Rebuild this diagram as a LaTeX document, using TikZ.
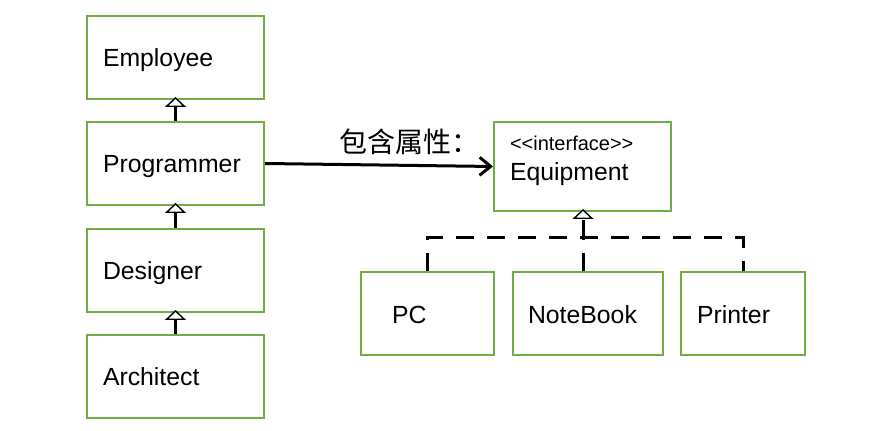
\documentclass[tikz,border=0pt]{standalone}
\usepackage{fontspec}
\setmainfont{Liberation Sans}
\newfontfamily\cjk{Noto Sans CJK SC}
\usetikzlibrary{arrows.meta}
\definecolor{umlgreen}{RGB}{112,173,71}
\begin{document}
\begin{tikzpicture}
	[ x=0.5pt, y=-0.5pt,
	  cls/.style={draw=umlgreen,line width=1pt,fill=white,align=left,
	    font=\fontsize{12.4}{15}\selectfont,inner xsep=8pt,
	    text height=10.5pt,text depth=1pt,
	    minimum height=41.5pt,text width=72.5pt},
	  impl/.style={line width=1.5pt,dash pattern=on 9pt off 6.5pt},
	  inherit/.style={line width=1.5pt,
	    -{Triangle[open,length=5pt,width=10.5pt,line width=0.7pt,fill=white]},
	    shorten >=-1.5pt},
	  assoc/.style={line width=1.5pt,-{Straight Barb[length=5.5pt,width=9pt]}},
	  key/.style={font=\cjk\fontsize{14}{16}\selectfont} ]

	\useasboundingbox (0,0) rectangle (877,431);

	% inheritance chain
	\node[cls] (employee)   at (175.5,57.5)  {Employee};
	\node[cls] (programmer) at (175.5,163.5) {Programmer};
	\node[cls] (designer)   at (175.5,270.5) {Designer};
	\node[cls] (architect)  at (175.5,376.5) {Architect};

	\draw[inherit] (programmer) -- (employee);
	\draw[inherit] (designer) -- (programmer);
	\draw[inherit] (architect) -- (designer);

	% interface and its implementations
	\node[cls,minimum height=44.5pt,text height=7.5pt,text depth=23pt] (equipment) at (582.5,166.5)
	  {{\fontsize{10}{15}\selectfont<{}<interface>{}>}\\Equipment};
	\node[cls,text width=35.5pt,inner xsep=15.5pt] (pc) at (427.5,314) {PC};
	\node[cls,text width=60pt,inner xsep=7.5pt] (notebook) at (588,314) {NoteBook};
	\node[cls,text width=46pt] (printer) at (743,314) {Printer};

	\coordinate (bus) at (583,238);
	\draw[impl] (pc.north) |- (bus) -| (printer.north);
	\draw[impl] (notebook.north -| bus) -- (bus);
	\draw[inherit,dash pattern=on 9pt off 6.5pt] (bus) -- (equipment.south -| bus);

	\draw[assoc] (programmer.east) -- node[above=1pt,pos=0.635,key] {包含属性：} (equipment.west);
\end{tikzpicture}
\end{document}
